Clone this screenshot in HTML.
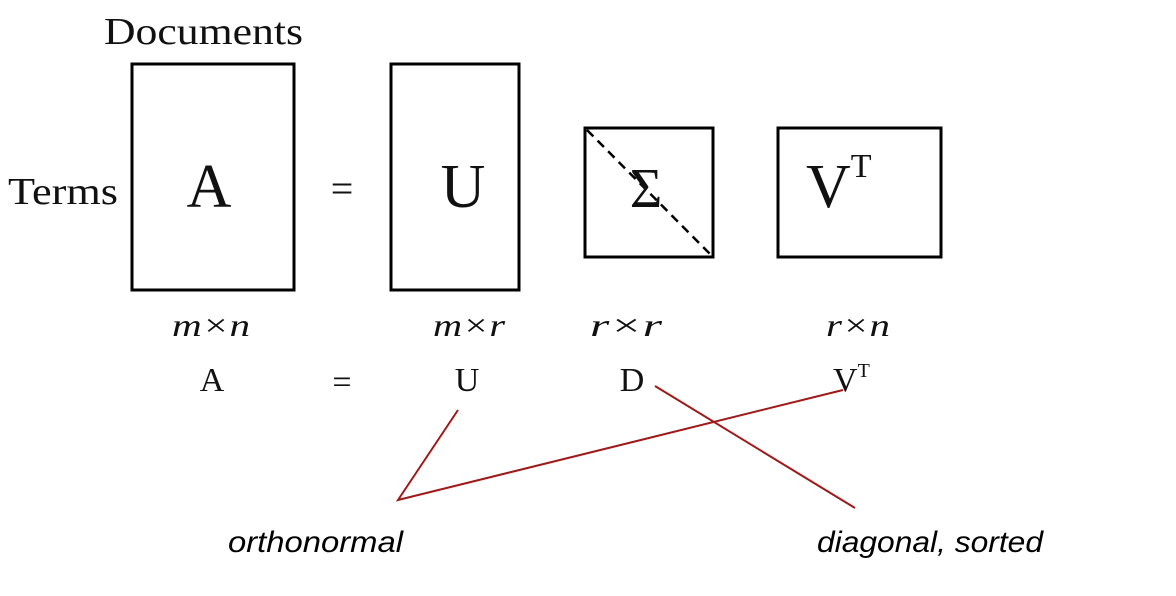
<!DOCTYPE html>
<html><head><meta charset="utf-8"><style>
html,body{margin:0;padding:0;background:#fff;}
svg{display:block;}
.s{font-family:"Liberation Serif",serif;fill:#111;}
.i{font-style:italic;}
.c{font-family:"Liberation Sans",sans-serif;font-style:italic;fill:#000;}
</style></head><body>
<svg width="1176" height="596" viewBox="0 0 1176 596">
<text class="s" x="104" y="44" font-size="38" textLength="199" lengthAdjust="spacingAndGlyphs">Documents</text>
<text class="s" x="8" y="204" font-size="38" textLength="110" lengthAdjust="spacingAndGlyphs">Terms</text>
<rect x="132" y="64" width="162" height="226" fill="none" stroke="#000" stroke-width="3"/>
<text class="s" x="209" y="207" font-size="62" text-anchor="middle">A</text>
<text class="s" x="342" y="202" font-size="40" text-anchor="middle">=</text>
<rect x="391" y="64" width="128" height="226" fill="none" stroke="#000" stroke-width="3"/>
<text class="s" x="463" y="207" font-size="62" text-anchor="middle">U</text>
<rect x="585" y="128" width="128" height="129" fill="none" stroke="#000" stroke-width="3"/>
<line x1="587" y1="130" x2="711" y2="255" stroke="#000" stroke-width="2.5" stroke-dasharray="9,6"/>
<text class="s" x="646" y="207" font-size="56" text-anchor="middle">Σ</text>
<rect x="778" y="128" width="163" height="129" fill="none" stroke="#000" stroke-width="3"/>
<text class="s" x="806" y="207" font-size="62">V<tspan font-size="34" dy="-30">T</tspan></text>
<text class="s i" x="172" y="336" font-size="32" textLength="78" lengthAdjust="spacingAndGlyphs">m×n</text>
<text class="s i" x="433" y="336" font-size="32" textLength="72" lengthAdjust="spacingAndGlyphs">m×r</text>
<text class="s i" x="590" y="336" font-size="32" textLength="72" lengthAdjust="spacingAndGlyphs">r×r</text>
<text class="s i" x="826" y="336" font-size="32" textLength="64" lengthAdjust="spacingAndGlyphs">r×n</text>
<text class="s" x="212" y="391" font-size="34" text-anchor="middle">A</text>
<text class="s" x="342" y="393" font-size="34" text-anchor="middle">=</text>
<text class="s" x="467" y="391" font-size="34" text-anchor="middle">U</text>
<text class="s" x="632" y="391" font-size="34" text-anchor="middle">D</text>
<text class="s" x="833" y="391" font-size="34">V<tspan font-size="20" dy="-14">T</tspan></text>
<g stroke="#a01818" stroke-width="2" fill="none">
<polyline points="458,410 398,500 843,390"/>
<line x1="655" y1="386" x2="855" y2="508"/>
</g>
<text class="c" x="228" y="552" font-size="30" textLength="175" lengthAdjust="spacingAndGlyphs">orthonormal</text>
<text class="c" x="817" y="552" font-size="30" textLength="226" lengthAdjust="spacingAndGlyphs">diagonal, sorted</text>
</svg>
</body></html>
